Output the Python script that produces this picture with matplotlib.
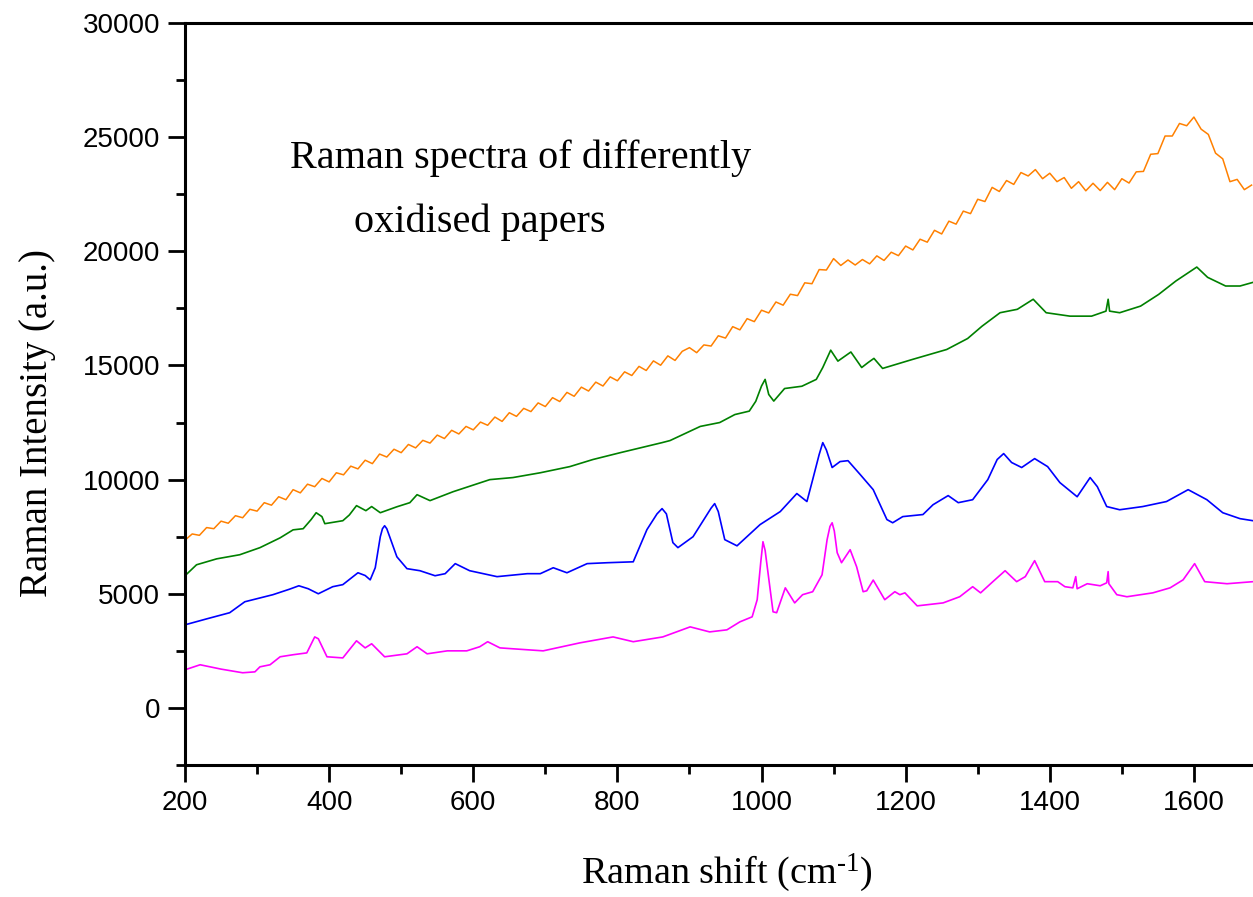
import numpy as np
import matplotlib
matplotlib.use("Agg")
import matplotlib.pyplot as plt
from matplotlib.ticker import MultipleLocator

# ---------------- data ----------------
orange_x = list(range(200, 1690, 10))
orange_y = [7350, 7620, 7560, 7900, 7850, 8180, 8090, 8420, 8330, 8700,
            8620, 8990, 8880, 9250, 9120, 9560, 9420, 9800, 9690, 10050,
            9900, 10300, 10210, 10590, 10470, 10850, 10700, 11120, 10990, 11330,
            11180, 11540, 11390, 11720, 11600, 11950, 11800, 12160, 12000, 12330,
            12180, 12520, 12380, 12740, 12550, 12930, 12770, 13120, 12980, 13360,
            13200, 13590, 13420, 13820, 13650, 14050, 13880, 14270, 14100, 14500,
            14330, 14720, 14560, 14960, 14780, 15200, 15010, 15420, 15220, 15620,
            15780, 15560, 15900, 15850, 16300, 16200, 16700, 16560, 17050, 16920,
            17420, 17300, 17780, 17640, 18120, 18060, 18620, 18580, 19200, 19180,
            19680, 19380, 19620, 19400, 19640, 19450, 19800, 19600, 19960, 19810,
            20230, 20060, 20530, 20400, 20920, 20760, 21320, 21190, 21760, 21650,
            22280, 22180, 22800, 22620, 23100, 22930, 23450, 23300, 23580, 23180,
            23420, 23050, 23230, 22760, 23050, 22650, 22980, 22660, 23020, 22700,
            23180, 22990, 23480, 23500, 24250, 24280, 25050, 25050, 25600, 25500,
            25880, 25350, 25120, 24300, 24050, 23050, 23150, 22700, 22900]

green_x = [200, 216, 244, 276, 304, 332, 350, 364, 375, 382, 390, 394, 419, 428,
           438, 451, 459, 471, 494, 512, 522, 540, 572, 623, 655, 693, 734, 766,
           804, 862, 873, 915, 942, 963, 983, 992, 1000, 1005, 1010, 1017, 1032,
           1056, 1076, 1085, 1096, 1106, 1124, 1139, 1148, 1156, 1168, 1209, 1257,
           1286, 1306, 1331, 1355, 1377, 1395, 1428, 1458, 1478, 1481, 1483, 1497,
           1526, 1551, 1575, 1604, 1619, 1644, 1664, 1682]
green_y = [5790, 6270, 6530, 6710, 7020, 7450, 7800, 7850, 8250, 8550, 8380, 8070,
           8200, 8450, 8860, 8640, 8820, 8550, 8810, 8990, 9340, 9080, 9470, 10000,
           10090, 10300, 10570, 10880, 11180, 11620, 11710, 12330, 12500, 12850,
           13000, 13430, 14100, 14390, 13730, 13440, 13990, 14090, 14390, 14910,
           15670, 15190, 15590, 14910, 15130, 15310, 14870, 15260, 15700, 16180,
           16720, 17310, 17460, 17900, 17310, 17160, 17160, 17380, 17900, 17380,
           17310, 17600, 18110, 18700, 19310, 18860, 18480, 18480, 18640]

blue_x = [200, 230, 262, 283, 322, 345, 358, 371, 385, 405, 419, 440, 450, 457,
          464, 471, 474, 477, 480, 484, 494, 508, 526, 547, 561, 575, 595, 633,
          675, 693, 711, 730, 758, 786, 822, 841, 855, 862, 868, 877, 884, 905,
          930, 935, 940, 949, 966, 998, 1026, 1049, 1063, 1071, 1080, 1085, 1090,
          1098, 1109, 1120, 1137, 1155, 1174, 1182, 1196, 1224, 1238, 1259, 1273,
          1293, 1314, 1327, 1336, 1347, 1361, 1379, 1397, 1414, 1438, 1456, 1466,
          1479, 1497, 1529, 1562, 1592, 1618, 1640, 1664, 1682]
blue_y = [3640, 3900, 4170, 4650, 4960, 5200, 5350, 5220, 5000, 5310, 5400, 5920,
          5800, 5610, 6140, 7500, 7850, 7980, 7850, 7500, 6620, 6100, 6010, 5790,
          5880, 6320, 6010, 5750, 5880, 5880, 6140, 5920, 6320, 6360, 6400, 7810,
          8500, 8730, 8500, 7240, 7020, 7500, 8750, 8950, 8600, 7370, 7100, 8030,
          8600, 9390, 9040, 10000, 11100, 11620, 11300, 10530, 10790, 10830, 10220,
          9560, 8250, 8110, 8380, 8470, 8900, 9300, 8990, 9120, 10000, 10880, 11140,
          10750, 10530, 10920, 10570, 9870, 9250, 10090, 9690, 8820, 8680, 8820,
          9040, 9560, 9120, 8550, 8290, 8200]

magenta_x = [200, 221, 250, 280, 297, 304, 318, 332, 350, 369, 380, 385, 397, 419,
             438, 450, 459, 477, 508, 522, 536, 564, 591, 609, 620, 637, 655, 697,
             748, 794, 822, 863, 901, 928, 952, 970, 987, 994, 999, 1002, 1005, 1009,
             1016, 1021, 1033, 1046, 1057, 1071, 1084, 1091, 1095, 1098, 1101, 1105,
             1111, 1123, 1132, 1141, 1146, 1155, 1171, 1185, 1192, 1199, 1216, 1252,
             1275, 1293, 1304, 1321, 1338, 1354, 1366, 1379, 1393, 1411, 1421, 1432,
             1436, 1438, 1452, 1470, 1479, 1481, 1482, 1493, 1507, 1543, 1567, 1585,
             1601, 1615, 1646, 1682]
magenta_y = [1670, 1890, 1700, 1540, 1580, 1800, 1890, 2240, 2330, 2410, 3110, 3030,
             2240, 2190, 2940, 2630, 2810, 2240, 2370, 2680, 2370, 2500, 2500, 2680,
             2900, 2630, 2590, 2500, 2850, 3110, 2900, 3110, 3550, 3330, 3420, 3770,
             3990, 4740, 6400, 7280, 6900, 5920, 4210, 4170, 5260, 4600, 4960, 5090,
             5830, 7370, 7950, 8110, 7750, 6800, 6360, 6930, 6180, 5090, 5130, 5600,
             4740, 5090, 4960, 5040, 4470, 4600, 4870, 5310, 5040, 5530, 6010, 5530,
             5750, 6450, 5530, 5530, 5310, 5260, 5750, 5220, 5440, 5350, 5480, 5970,
             5440, 4960, 4870, 5040, 5260, 5610, 6320, 5530, 5440, 5530]

x_ticks = [200, 400, 600, 800, 1000, 1200, 1400, 1600]
y_ticks = [0, 5000, 10000, 15000, 20000, 25000, 30000]

# ---------------- figure ----------------
W, H = 1253, 897
fig = plt.figure(figsize=(W / 100, H / 100), dpi=100)
ax = fig.add_axes([185 / W, 1 - 765 / H, 1068 / W, (765 - 23) / H])

ax.plot(magenta_x, magenta_y, color="#FF00FF", lw=1.2)
ax.plot(blue_x, blue_y, color="#0000FF", lw=1.2)
ax.plot(green_x, green_y, color="#008000", lw=1.2)
ax.plot(orange_x, orange_y, color="#FF8000", lw=1.1)

ax.set_xlim(200, 1682)
ax.set_ylim(-2500, 30000)
ax.set_xticks(x_ticks)
ax.set_yticks(y_ticks)
ax.xaxis.set_minor_locator(MultipleLocator(100))
ax.yaxis.set_minor_locator(MultipleLocator(2500))

for s in ["left", "bottom", "top"]:
    ax.spines[s].set_linewidth(2.2)
ax.spines["right"].set_visible(False)
ax.tick_params(which="major", direction="out", length=12, width=2.0,
               labelsize=20, pad=6, top=False, right=False)
ax.tick_params(which="minor", direction="out", length=6.5, width=2.0,
               top=False, right=False)
for lab in ax.get_xticklabels() + ax.get_yticklabels():
    lab.set_fontfamily("Liberation Sans")

serif = "Liberation Serif"
plt.rcParams["mathtext.fontset"] = "custom"
plt.rcParams["mathtext.rm"] = serif
plt.rcParams["mathtext.it"] = serif + ":italic"

fig.text(521 / W, 1 - 168 / H, "Raman spectra of differently", ha="center",
         va="baseline", fontsize=29, family=serif)
fig.text(480 / W, 1 - 232 / H, "oxidised papers", ha="center",
         va="baseline", fontsize=29, family=serif)
fig.text(727 / W, 1 - 883 / H, r"Raman shift (cm$^{\text{-}1}$)", ha="center",
         va="baseline", fontsize=27.5, family=serif)
fig.text(38 / W, 1 - 423 / H, "Raman Intensity (a.u.)", ha="center",
         va="center", rotation=90, fontsize=28, family=serif)

fig.savefig("out.png", dpi=100)
